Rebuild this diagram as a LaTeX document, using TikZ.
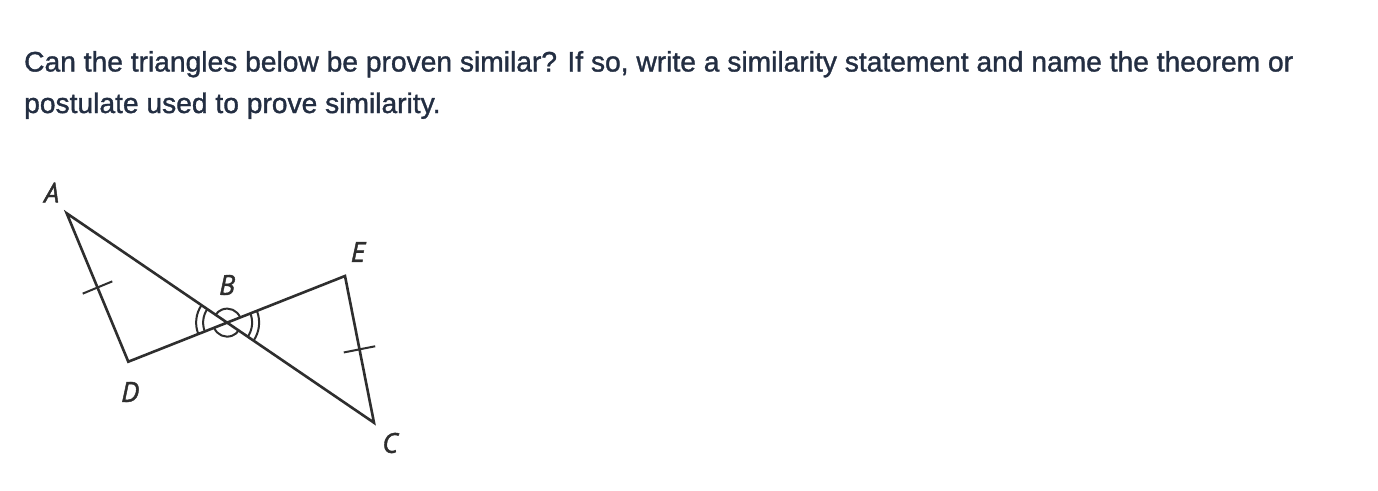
\documentclass[tikz,border=0pt]{standalone}
\usepackage{fontspec}
\usetikzlibrary{calc,angles}
\setmainfont{Liberation Sans}[FakeBold=1.2]
\newfontfamily\labelfont{PT Sans}[FakeBold=1.5]
\definecolor{textnavy}{HTML}{232E42}
\definecolor{linegray}{HTML}{2E2E2E}

\tikzset{
	question/.style={anchor=base west, inner sep=0pt, text=textnavy, font=\fontsize{28.2}{28.2}\selectfont},
	vertexlabel/.style={inner sep=0pt, text=linegray, font=\labelfont\itshape\fontsize{28}{28}\selectfont},
	side/.style={draw=linegray, line width=2.6pt, line join=miter},
	anglemark/.style={draw=linegray, line width=2pt},
}

\begin{document}
\begin{tikzpicture}[x=1pt, y=1pt]
		\useasboundingbox[fill=white] (0,0) rectangle (1378,-490);

		% question text
		\node[question] (q1) at (24,-71.5) {Can the triangles below be proven similar? If so, write a similarity statement and name the theorem or};
		\node[question] (q2) at (24,-113) {postulate used to prove similarity.};

		% vertices
		\coordinate (A) at (66.7,-213.3);
		\coordinate (C) at (374,-422.7);
		\coordinate (D) at (128.3,-361.7);
		\coordinate (E) at (345,-276);
		\coordinate (B) at (intersection of A--C and D--E);

		% the two triangles
		\draw[side] (A) -- (C) -- (E) -- (D) -- cycle;

		% congruent sides
		\draw[anglemark] ($(A)!0.5!(D)!16pt!90:(D)$) -- ($(A)!0.5!(D)!16pt!-90:(D)$);
		\draw[anglemark] ($(E)!0.5!(C)!16pt!90:(C)$) -- ($(E)!0.5!(C)!16pt!-90:(C)$);

		% vertical angles
		\path
		pic[anglemark, angle radius=14pt] {angle = E--B--A}
		pic[anglemark, angle radius=14pt] {angle = D--B--C}
		pic[anglemark, angle radius=24pt] {angle = A--B--D}
		pic[anglemark, angle radius=31pt] {angle = A--B--D}
		pic[anglemark, angle radius=25pt] {angle = C--B--E}
		pic[anglemark, angle radius=32pt] {angle = C--B--E}
		;

		% labels
		\node[vertexlabel] (lA) at (51.5,-192.5) {A};
		\node[vertexlabel] (lB) at (227,-285) {B};
		\node[vertexlabel] (lC) at (390,-443) {C};
		\node[vertexlabel] (lD) at (130,-392) {D};
		\node[vertexlabel] (lE) at (358,-252) {E};
	\end{tikzpicture}
\end{document}
